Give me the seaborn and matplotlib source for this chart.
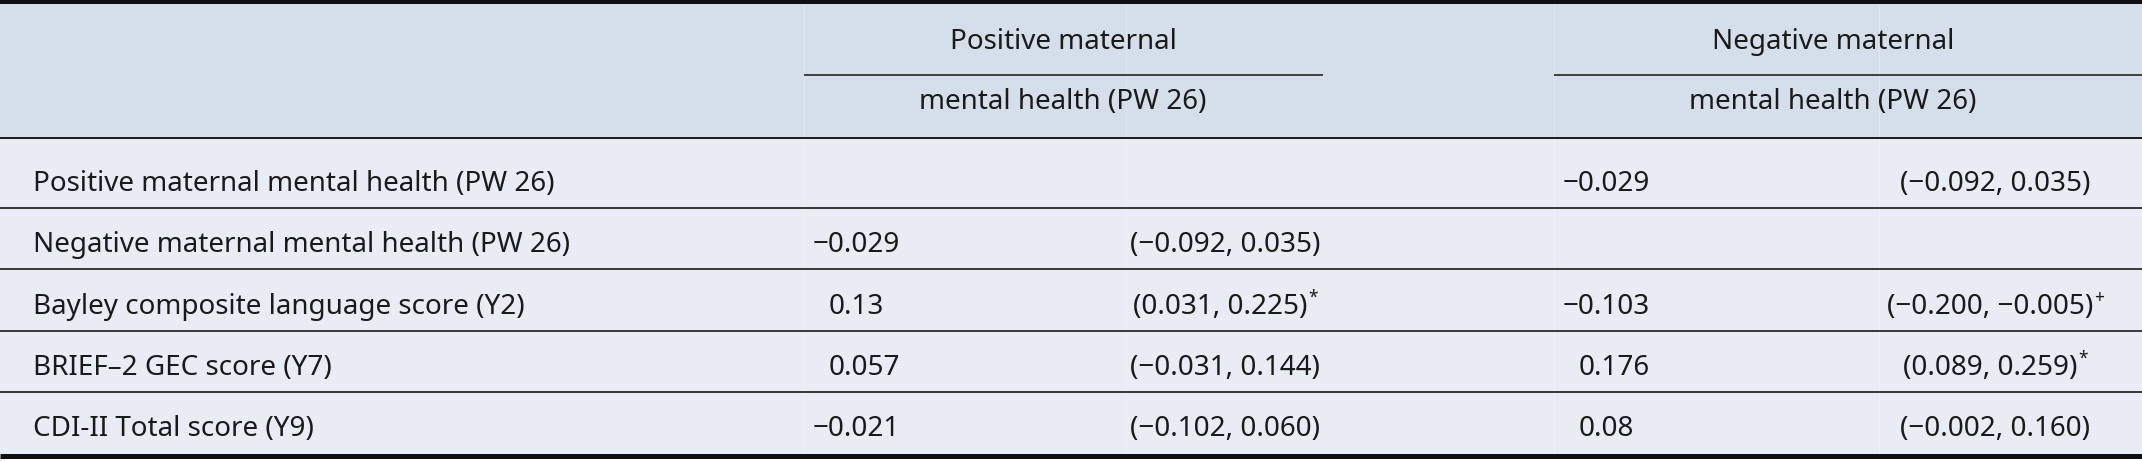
import numpy as np
import pandas as pd
import seaborn as sns
import matplotlib
matplotlib.use("Agg")
import matplotlib.pyplot as plt

# ---------------- data ----------------
row_labels = [
    "Positive maternal mental health (PW 26)",
    "Negative maternal mental health (PW 26)",
    "Bayley composite language score (Y2)",
    "BRIEF\u20132 GEC score (Y7)",
    "CDI-II Total score (Y9)",
]
group_titles = ["Positive maternal", "Negative maternal"]
group_subtitle = "mental health (PW 26)"

pos_est = [np.nan, -0.029, 0.13, 0.057, -0.021]
pos_lo = [np.nan, -0.092, 0.031, -0.031, -0.102]
pos_hi = [np.nan, 0.035, 0.225, 0.144, 0.060]
pos_sig = ["", "", "*", "", ""]

neg_est = [-0.029, np.nan, -0.103, 0.176, 0.08]
neg_lo = [-0.092, np.nan, -0.200, 0.089, -0.002]
neg_hi = [0.035, np.nan, -0.005, 0.259, 0.160]
neg_sig = ["", "", "+", "*", ""]

table = pd.DataFrame({
    "label": row_labels,
    "pos_est": pos_est, "pos_lo": pos_lo, "pos_hi": pos_hi, "pos_sig": pos_sig,
    "neg_est": neg_est, "neg_lo": neg_lo, "neg_hi": neg_hi, "neg_sig": neg_sig,
})

# ---------------- style ----------------
sns.set_theme(style="white")
plt.rcParams["font.family"] = ["Noto Sans", "DejaVu Sans"]

W, H = 2142, 461
HDR_BG = "#d5dfec"
BODY_BG = "#e8ecf4"
TXT = "#1a1a1a"
LINE = "#1e1e1e"

fig = plt.figure(figsize=(W / 100, H / 100), dpi=100)
ax = fig.add_axes([0, 0, 1, 1])
ax.set_xlim(0, W)
ax.set_ylim(H, 0)
ax.axis("off")
fig.patch.set_facecolor("white")

# layout (pixels)
hdr_top, hdr_bot = 4, 138
row_edges = [138, 208, 269, 331, 392, 454]
row_text_y = [182, 243, 305, 366, 427]
hdr_text_y = [40, 100]
span_y = 75
label_x = 33
est_digit_x = [829, 1579]
ci_center_x = [1225, 1995]
group_center_x = [1063, 1833]
span_x = [(804, 1323), (1554, W)]
cell_borders = [804, 1126, 1554, 1879]

pt = 0.72  # px -> pt at dpi 100

# backgrounds
ax.axhspan(hdr_top, hdr_bot, color=HDR_BG, lw=0, zorder=0)
ax.axhspan(hdr_bot, row_edges[-1], color=BODY_BG, lw=0, zorder=0)
for bx in cell_borders:
    ax.plot([bx, bx], [hdr_top, hdr_bot], color="#dde5f0", lw=1 * pt, zorder=1)
    ax.plot([bx, bx], [hdr_bot, row_edges[-1]], color="#eef1f7", lw=1 * pt, zorder=1)

# fit font size so the subtitle matches reference width (~288 px)
renderer = fig.canvas.get_renderer()
probe = ax.text(0, 0, group_subtitle, fontsize=20)
w_probe = probe.get_window_extent(renderer).width
probe.remove()
FS = 20 * 288.0 / w_probe
FS_SUP = FS * 0.62


def text_width(s, fs):
    t = ax.text(0, 0, s, fontsize=fs)
    w = t.get_window_extent(renderer).width
    t.remove()
    return w


VOFF = 2  # bbox-center vs visual center

# header texts
for cx, title in zip(group_center_x, group_titles):
    ax.text(cx, hdr_text_y[0] + VOFF, title, fontsize=FS, color=TXT,
            ha="center", va="center", zorder=3)
    ax.text(cx, hdr_text_y[1] + VOFF, group_subtitle, fontsize=FS, color=TXT,
            ha="center", va="center", zorder=3)
for x0, x1 in span_x:
    ax.plot([x0, x1], [span_y, span_y], color=LINE, lw=1.6 * pt, zorder=2,
            solid_capstyle="butt")

# rules
ax.plot([0, W], [2, 2], color="#111111", lw=4 * pt, zorder=4, solid_capstyle="butt")
ax.plot([0, W], [hdr_bot, hdr_bot], color=LINE, lw=2 * pt, zorder=2, solid_capstyle="butt")
for y in row_edges[1:-1]:
    ax.plot([0, W], [y, y], color="#2a2a2a", lw=1.8 * pt, zorder=2, solid_capstyle="butt")
ax.plot([0, W], [row_edges[-1] + 1.5, row_edges[-1] + 1.5], color="#111111",
        lw=5 * pt, zorder=4, solid_capstyle="butt")

MINUS = "\u2212"
w_minus = text_width(MINUS, FS)


def fmt_est(v):
    s = f"{abs(v):g}"
    return (MINUS + s) if v < 0 else s


def fmt_ci(lo, hi):
    f = lambda v: (MINUS if v < 0 else "") + f"{abs(v):.3f}"
    return f"({f(lo)}, {f(hi)})"


groups = [("pos_est", "pos_lo", "pos_hi", "pos_sig"),
          ("neg_est", "neg_lo", "neg_hi", "neg_sig")]

for i, row in table.iterrows():
    y = row_text_y[i] + VOFF
    ax.text(label_x, y, row["label"], fontsize=FS, color=TXT, ha="left",
            va="center", zorder=3)
    for g, (ce, cl, ch, cs) in enumerate(groups):
        v = row[ce]
        if pd.isna(v):
            continue
        s = fmt_est(v)
        x = est_digit_x[g] - (w_minus if v < 0 else 0)
        ax.text(x, y, s, fontsize=FS, color=TXT, ha="left", va="center", zorder=3)
        ci = fmt_ci(row[cl], row[ch])
        sig = row[cs]
        w_main = text_width(ci, FS)
        w_sig = text_width(sig, FS_SUP) if sig else 0
        x0 = ci_center_x[g] - (w_main + w_sig) / 2
        ax.text(x0, y, ci, fontsize=FS, color=TXT, ha="left", va="center", zorder=3)
        if sig:
            ax.text(x0 + w_main + 1, y - 9, sig, fontsize=FS_SUP, color=TXT,
                    ha="left", va="center", zorder=3)

fig.savefig("out.png", dpi=100, facecolor="white")
